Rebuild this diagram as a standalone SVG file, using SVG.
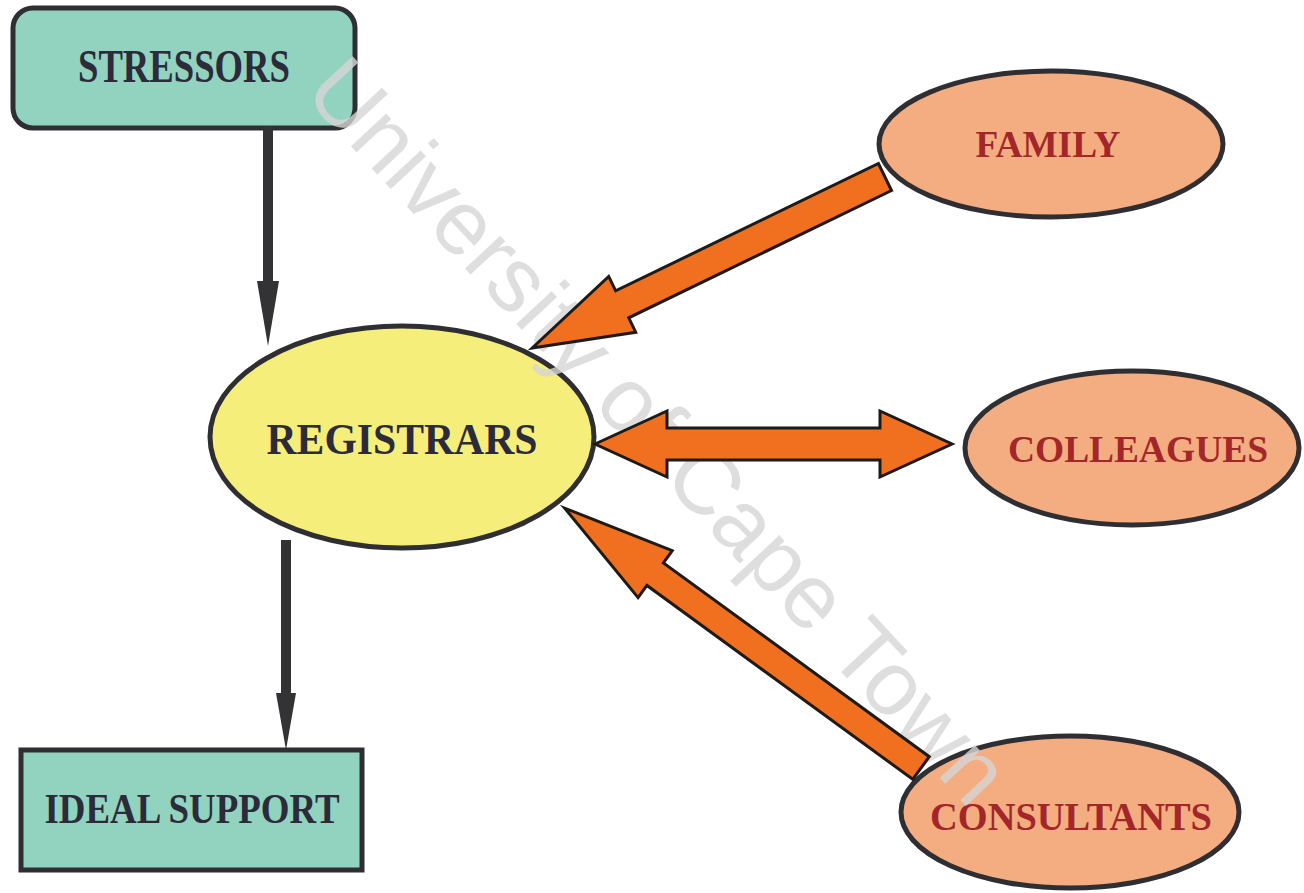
<svg xmlns="http://www.w3.org/2000/svg" width="1304" height="893" viewBox="0 0 1304 893">
<defs>
<style>
.box{fill:#92d3bf;stroke:#2e2e33;stroke-width:5}
.ell{stroke:#2e2e33;stroke-width:5}
.reg{fill:#f6ee7a}
.peach{fill:#f3ad80}
.lbl{font-family:"Liberation Serif","Times New Roman",serif;font-weight:bold;text-anchor:middle}
.dark{fill:#2b2b3a}
.red{fill:#a2262a}
.bk{fill:#333336;stroke:none}
.or{fill:#f07020;stroke:#1e1a18;stroke-width:3;stroke-linejoin:miter}
.wm{font-family:"Liberation Sans",Arial,sans-serif;font-size:91px;fill:#d6d6d6;opacity:0.8;text-anchor:middle}
</style>
</defs>
<rect width="1304" height="893" fill="#ffffff"/>
<g id="stressors">
<rect class="box" x="13" y="8" width="342" height="120" rx="20"/>
<text class="lbl dark" x="184" y="82" font-size="47" textLength="212" lengthAdjust="spacingAndGlyphs">STRESSORS</text>
</g>
<g id="ideal-support">
<rect class="box" x="21" y="750" width="341" height="120"/>
<text class="lbl dark" x="192" y="823" font-size="42" textLength="295" lengthAdjust="spacingAndGlyphs">IDEAL SUPPORT</text>
</g>
<g id="registrars">
<ellipse class="ell reg" cx="402" cy="437" rx="192" ry="111"/>
<text class="lbl dark" x="402" y="454" font-size="44" textLength="271" lengthAdjust="spacingAndGlyphs">REGISTRARS</text>
</g>
<g id="family">
<ellipse class="ell peach" cx="1051" cy="144" rx="172" ry="73"/>
<text class="lbl red" x="1048" y="157" font-size="37" textLength="145" lengthAdjust="spacingAndGlyphs">FAMILY</text>
</g>
<g id="colleagues">
<ellipse class="ell peach" cx="1132" cy="448" rx="167" ry="77"/>
<text class="lbl red" x="1138" y="462" font-size="38" textLength="260" lengthAdjust="spacingAndGlyphs">COLLEAGUES</text>
</g>
<g id="consultants">
<ellipse class="ell peach" cx="1070" cy="812" rx="169" ry="76"/>
<text class="lbl red" x="1071" y="830" font-size="39" textLength="282" lengthAdjust="spacingAndGlyphs">CONSULTANTS</text>
</g>
<text class="wm" x="636" y="452" transform="rotate(47 636 452)">University of Cape Town</text>
<g id="connectors">
<rect class="bk" x="263" y="127" width="10" height="160"/>
<polygon class="bk" points="257,281 279,281 268,346"/>
<rect class="bk" x="281" y="540" width="10" height="156"/>
<polygon class="bk" points="276,693 296,693 286,750"/>
<polygon class="or" transform="translate(885 177) rotate(154.15)" points="0,-15 292,-15 292,-31 392,0 292,31 292,15 0,15"/>
<polygon class="or" transform="translate(921 768) rotate(-143.9)" points="0,-14 329,-14 329,-29 441,0 329,29 329,14 0,14"/>
<polygon class="or" points="595,444 667,411 667,428 880,428 880,411 952,444 880,477 880,460 667,460 667,477"/>
</g>
</svg>
